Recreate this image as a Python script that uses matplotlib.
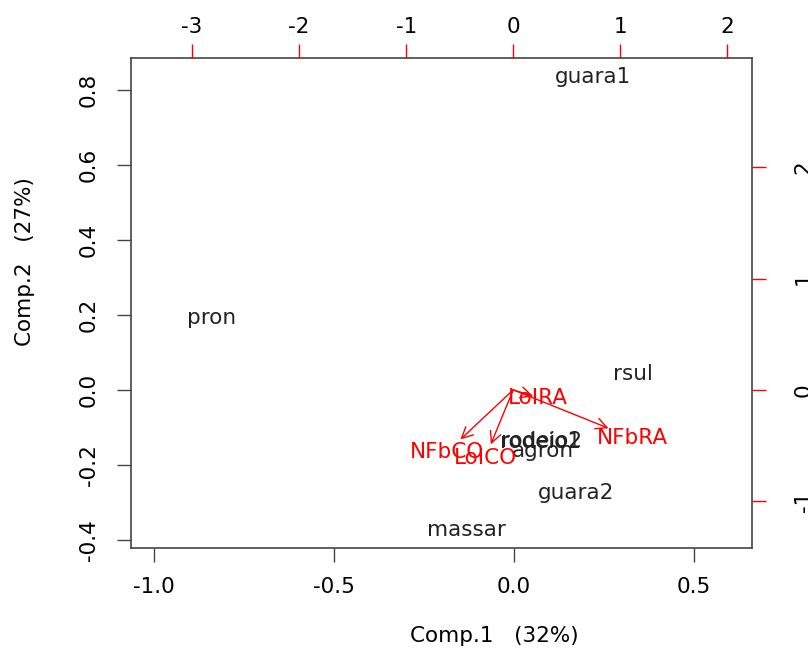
import matplotlib
matplotlib.use("Agg")
import matplotlib.pyplot as plt
from matplotlib.patches import FancyArrowPatch

plt.rcParams['font.family'] = ['DejaVu Sans']
plt.rcParams['axes.unicode_minus'] = False

# scores (Comp.1, Comp.2)
obs_names = ['guara1', 'pron', 'rsul', 'rodeio1', 'rodeio2', 'agron', 'guara2', 'massar']
comp1 = [0.219, -0.839, 0.331, 0.074, 0.076, 0.080, 0.172, -0.133]
comp2 = [0.835, 0.192, 0.043, -0.139, -0.137, -0.163, -0.275, -0.373]

# loadings (top / right axes)
var_names = ['LoIRA', 'NFbRA', 'NFbCO', 'LoICO']
load1 = [0.234, 1.112, -0.617, -0.262]
load2 = [-0.072, -0.431, -0.557, -0.611]

xticks = [-1.0, -0.5, 0.0, 0.5]
yticks = [-0.4, -0.2, 0.0, 0.2, 0.4, 0.6, 0.8]
top_ticks = [-3, -2, -1, 0, 1, 2]
right_ticks = [-1, 0, 1, 2]

W, H = 808, 648
fig = plt.figure(figsize=(W / 100, H / 100), dpi=100)
pos = [131 / W, (H - 548) / H, (752 - 131) / W, (548 - 58) / H]

ax = fig.add_axes(pos)
ax.set_xlim(-1.064, 0.661)
ax.set_ylim(-0.421, 0.885)
fs = 15.5
for n, x, y in zip(obs_names, comp1, comp2):
    ax.text(x, y, n, ha='center', va='center', fontsize=fs, color='#222222')
ax.set_xticks(xticks)
ax.set_xticklabels(['-1.0', '-0.5', '0.0', '0.5'])
ax.set_yticks(yticks)
ax.set_yticklabels(['%.1f' % v for v in yticks], rotation=90, va='center')
ax.tick_params(axis='x', length=10, width=1, color='#444444', labelsize=fs, pad=11)
ax.tick_params(axis='y', length=10, width=1, color='#444444', labelsize=fs, pad=13)
for s in ax.spines.values():
    s.set_color('#444444')
    s.set_linewidth(1.2)

ax2 = fig.add_axes(pos, frameon=False)
ax2.set_xlim(-3.57, 2.23)
ax2.set_ylim(-1.42, 2.98)
ax2.xaxis.tick_top()
ax2.yaxis.tick_right()
ax2.set_xticks(top_ticks)
ax2.set_yticks(right_ticks)
ax2.set_yticklabels([str(v) for v in right_ticks], rotation=90, va='center')
ax2.tick_params(axis='x', length=10, width=1, color='red', labelsize=fs, pad=5)
ax2.tick_params(axis='y', length=10, width=1, color='red', labelsize=fs, pad=20)
ax2.patch.set_visible(False)

for n, x, y in zip(var_names, load1, load2):
    arr = FancyArrowPatch((0, 0), (0.8 * x, 0.8 * y),
                          arrowstyle='->, head_length=0.8, head_width=0.4',
                          mutation_scale=10, color='red', lw=1,
                          shrinkA=0, shrinkB=0)
    ax2.add_patch(arr)
    ax2.text(x, y, n, ha='center', va='center', fontsize=fs, color='red')

fig.text(494 / W, 1 - 636 / H, 'Comp.1   (32%)', ha='center', va='center', fontsize=fs)
fig.text(25 / W, 1 - 262 / H, 'Comp.2   (27%)', ha='center', va='center',
         rotation=90, fontsize=fs)

fig.savefig('out.png', dpi=100)
